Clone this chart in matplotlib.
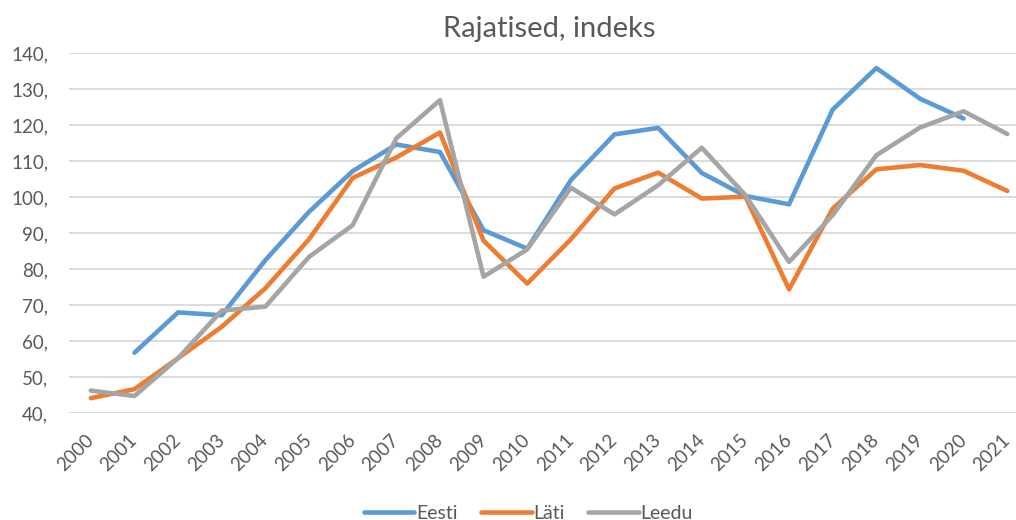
import matplotlib.pyplot as plt
from matplotlib.ticker import FuncFormatter

# Data
years = list(range(2000, 2022))
eesti = [None, 56.8, 68.0, 67.2, 82.5, 95.9, 107.2, 114.6, 112.5, 90.8, 85.7,
         104.7, 117.4, 119.2, 106.7, 100.3, 98.0, 124.3, 135.8, 127.3, 121.8, None]
lati = [44.2, 46.7, 55.3, 64.0, 74.7, 88.3, 105.3, 111.0, 117.9, 87.9, 76.0,
        88.3, 102.4, 106.8, 99.6, 100.1, 74.4, 96.8, 107.7, 108.9, 107.3, 101.7]
leedu = [46.3, 44.8, 55.3, 68.5, 69.6, 83.4, 92.2, 116.3, 126.9, 77.9, 85.5,
         102.6, 95.2, 103.3, 113.7, 100.5, 82.0, 95.0, 111.6, 119.3, 123.8, 117.5]

series = [("Eesti", eesti, "#5B9BD5"),
          ("Läti", lati, "#ED7D31"),
          ("Leedu", leedu, "#A5A5A5")]

plt.rcParams['font.family'] = ['Lato', 'DejaVu Sans']

fig = plt.figure(figsize=(10.16, 5.2), dpi=100)
ax = fig.add_axes([0.0679, 0.2052, 0.945, 0.693])

xs = list(range(len(years)))
for name, vals, color in series:
    y = [float('nan') if v is None else v for v in vals]
    ax.plot(xs, y, color=color, lw=3.3, label=name,
            solid_capstyle='round', solid_joinstyle='round')

ax.set_xlim(-0.5, len(years) - 0.5)
ax.set_ylim(40, 140)
ax.set_yticks(range(40, 141, 10))
ax.yaxis.set_major_formatter(FuncFormatter(lambda v, p: f"{int(v)},"))
ax.set_xticks(xs)
ax.set_xticklabels([str(y) for y in years], rotation=45, ha='right',
                   va='center', rotation_mode='anchor')

ax.grid(axis='y', color='#D9D9D9', lw=1.3)
ax.set_axisbelow(True)
for s in ax.spines.values():
    s.set_visible(False)
ax.tick_params(axis='y', length=0, pad=15, labelsize=13.5, labelcolor='#595959')
ax.tick_params(axis='x', length=0, pad=17, labelsize=13.5, labelcolor='#595959')

ax.set_title("Rajatised, indeks", fontsize=21, color='#595959', pad=11.5)

fig.legend(loc='lower center', bbox_to_anchor=(0.52, -0.037), ncol=3,
           frameon=False, fontsize=14, handlelength=2.6, handletextpad=0.1,
           columnspacing=1.2, labelcolor='#595959')

fig.savefig("out.png", dpi=100)
